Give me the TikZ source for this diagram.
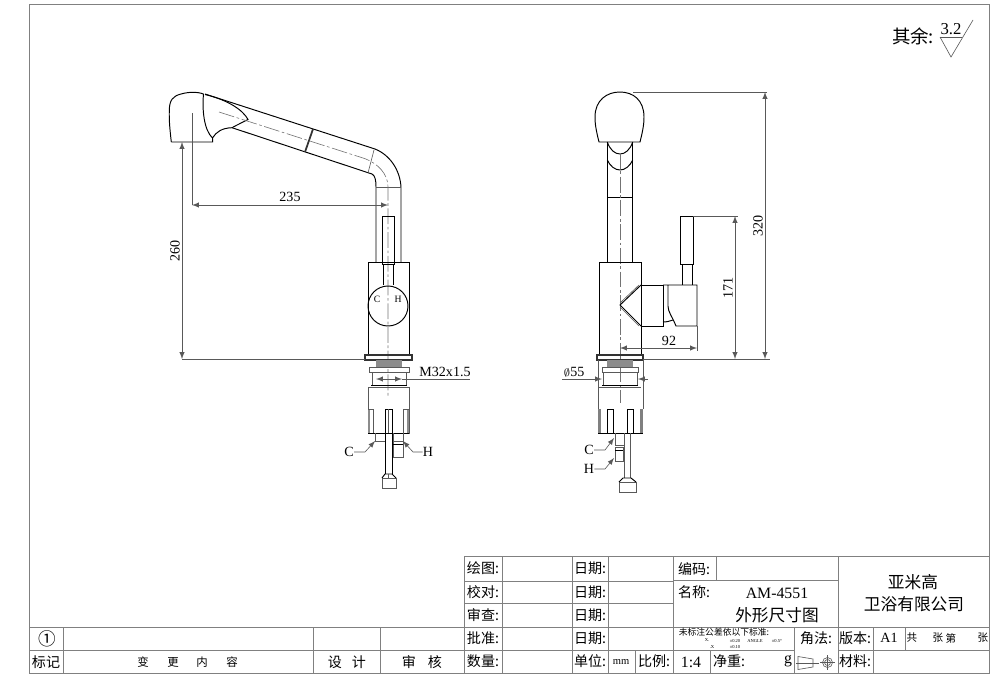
\documentclass[tikz,border=0pt]{standalone}
\usepackage{fontspec}
\setmainfont{Liberation Serif}
\newfontfamily\cjk{Noto Sans CJK SC}
\tikzset{
    part/.style={line width=0.55pt, black},
    thick part/.style={line width=1pt, black!80},
    dimline/.style={line width=0.35pt, black!65},
    axisline/.style={line width=0.35pt, black!55, dash pattern=on 9pt off 1.5pt on 1.5pt off 1.5pt},
    tabline/.style={line width=0.55pt, black!50},
    dimtext/.style={font=\fontsize{8}{8}\selectfont, inner sep=0pt},
    tabtext/.style={font=\cjk\fontsize{8}{8}\selectfont, inner sep=0pt},
    bigtext/.style={font=\cjk\fontsize{9.5}{9.5}\selectfont, inner sep=0pt},
    tinytext/.style={font=\fontsize{2.6}{2.6}\selectfont, inner sep=0pt},
}
\begin{document}
\begin{tikzpicture}[x=0.02cm, y=-0.02cm]
    \useasboundingbox (0,0) rectangle (1000,697);
    % frame and title block
    \draw[tabline] (29,4) rectangle (989,673);
    \draw[tabline] (29,627) -- (464,627);
    \draw[tabline] (29,650) -- (673,650);
    \draw[tabline] (464,556) -- (989,556);
    \draw[tabline] (464,581) -- (673,581);
    \draw[tabline] (464,603) -- (673,603);
    \draw[tabline] (464,627) -- (989,627);
    \draw[tabline] (673,650) -- (794,650);
    \draw[tabline] (838,650) -- (989,650);
    \draw[tabline] (673,580) -- (838,580);
    \draw[tabline] (63,627) -- (63,673);
    \draw[tabline] (313,627) -- (313,673);
    \draw[tabline] (380,627) -- (380,673);
    \draw[tabline] (464,556) -- (464,673);
    \draw[tabline] (502,556) -- (502,673);
    \draw[tabline] (572,556) -- (572,673);
    \draw[tabline] (608,556) -- (608,673);
    \draw[tabline] (635,650) -- (635,673);
    \draw[tabline] (673,556) -- (673,673);
    \draw[tabline] (710,650) -- (710,673);
    \draw[tabline] (716,556) -- (716,580);
    \draw[tabline] (794,627) -- (794,673);
    \draw[tabline] (838,556) -- (838,673);
    \draw[tabline] (873,627) -- (873,673);
    \draw[tabline] (905,627) -- (905,650);
    % left view, spout
    \draw[part] (171.3,142) .. controls (170,130) and (169,122) .. (169.3,110)
        .. controls (169.5,100) and (173,96) .. (181,94)
        .. controls (188,92) and (197,91.5) .. (203.5,94);
    \draw[part] (171.3,142) -- (212.7,142) -- (212.5,138);
    \draw[part] (203.5,94) .. controls (202,110) and (204,130) .. (212.5,138)
        .. controls (216,132) and (222,128) .. (232,127.7)
        .. controls (237,125) and (243,122) .. (248,119.5)
        .. controls (243,110) and (228,100) .. (205,94.5);
    \draw[part] (205,94) -- (375,149) .. controls (390,155) and (400,170) .. (401,187) -- (401,262);
    \draw[part] (232,127.7) -- (372,174) .. controls (375,175.5) and (376,180) .. (376,187) -- (376,262);
    \draw[thick part] (313,129) -- (305,152);
    \draw[dimline] (374,150) -- (368,173);
    \draw[dimline] (376,187) -- (401,187);
    \draw[axisline] (219,112) -- (363,158) .. controls (378,163) and (388,174) .. (388,187) -- (388,398);
    % left view, body
    \draw[part] (382.7,216) rectangle (394.3,264);
    \draw[part] (383.3,264) -- (383.3,285);
    \draw[part] (393.3,264) -- (393.3,285);
    \draw[part] (368,262) rectangle (409,355);
    \draw[part] (388,306) circle[radius=20];
    \draw[thick part] (365,355) rectangle (412,360);
    \node[tabtext, font=\fontsize{5.5}{5.5}\selectfont] (coldleft) at (377,299) {C};
    \node[tabtext, font=\fontsize{5.5}{5.5}\selectfont] (hotleft) at (398,299) {H};
    % left view, tail
    \fill[black!45] (376,360) rectangle (402,367);
    \draw[dimline] (369,367) rectangle (409,372);
    \draw[dimline] (372,372) -- (372,385);
    \draw[dimline] (406,372) -- (406,385);
    \draw[part] (371,385) -- (407,385);
    \draw[dimline] (368,387) rectangle (409,433);
    \draw[part] (368,433) -- (409,433);
    \fill[black!45] (368,409) rectangle (370,433);
    \fill[black!45] (407,409) rectangle (409,433);
    \draw[dimline] (373,409) -- (373,433);
    \draw[dimline] (368,409) -- (373,409);
    \draw[dimline] (403,409) -- (403,433);
    \draw[dimline] (403,409) -- (409,409);
    \draw[part] (385,409) rectangle (392,433);
    \draw[dimline] (388.5,409) -- (388.5,433);
    \draw[dimline] (375,433) -- (375,441) -- (385,441);
    \draw[dimline] (393,433) -- (393,457) -- (403,457) -- (403,433);
    \draw[dimline] (393,441) -- (403,441);
    \draw[part] (393,444) -- (403,444);
    \draw[part] (385,433) -- (385,474);
    \draw[part] (392,433) -- (392,474);
    \draw[dimline] (382,478) rectangle (396,488);
    \draw[part] (382,478) -- (385,474) -- (392,474) -- (396,478);
    \draw[dimline] (388.5,474) -- (388.5,478);
    % right view, spout
    \draw[part] (599,142) .. controls (596,130) and (595,124) .. (595,117)
        .. controls (595,100) and (607,92) .. (620,92)
        .. controls (633,92) and (644,100) .. (644,117)
        .. controls (644,124) and (643,130) .. (640,142) -- cycle;
    \draw[part] (607.3,142) .. controls (610,150) and (615,154) .. (620,154)
        .. controls (625,154) and (630,150) .. (632.7,142);
    \draw[part] (607.3,160) .. controls (610,166) and (615,170) .. (620,170)
        .. controls (625,170) and (630,166) .. (632.7,160);
    \draw[part] (607.3,142) -- (607.3,262);
    \draw[part] (632.7,142) -- (632.7,262);
    \draw[part] (607.3,197) -- (632.7,197);
    \draw[axisline] (620,153) -- (620,403);
    % right view, body and handle
    \draw[part] (599,262) rectangle (641,355);
    \draw[thick part] (597,355) rectangle (643,360);
    \draw[part] (641,285) -- (620,305) -- (641,326);
    \draw[dimline] (639,285) -- (620,303);
    \draw[dimline] (639,326) -- (620,307);
    \draw[part] (641,285) -- (663,285) -- (663,326) -- (641,326);
    \draw[part] (663,285) -- (697,285) -- (697,326) -- (676,326)
        .. controls (672,316) and (668,312) .. (668,306) -- (668,285);
    \draw[part] (663,322) .. controls (667,322) and (670,321) .. (673,320);
    \draw[part] (680.7,216) rectangle (693,264);
    \draw[part] (682,264) -- (682,285);
    \draw[part] (692,264) -- (692,285);
    % right view, tail
    \fill[black!45] (607,360) rectangle (633,367);
    \draw[dimline] (602,367) rectangle (638,372);
    \draw[dimline] (603,372) -- (603,385);
    \draw[dimline] (637,372) -- (637,385);
    \draw[part] (602,385) -- (638,385);
    \draw[dimline] (599,387) -- (641,387);
    \draw[dimline] (598,360) -- (598,409);
    \draw[dimline] (643,360) -- (643,409);
    \draw[part] (598,433) -- (643,433);
    \fill[black!50] (598,409) rectangle (601,433);
    \fill[black!50] (640,409) rectangle (643,433);
    \draw[part] (607,409) -- (607,433);
    \draw[part] (613,409) -- (613,433);
    \draw[part] (607,409) -- (613,409);
    \draw[part] (627,409) -- (627,433);
    \draw[part] (633,409) -- (633,433);
    \draw[part] (627,409) -- (633,409);
    \draw[dimline] (615,433) -- (615,445) -- (624,445);
    \draw[dimline] (615,447) rectangle (623,461);
    \draw[part] (615,450) -- (623,450);
    \draw[dimline] (624,433) -- (624,478);
    \draw[dimline] (630,433) -- (630,478);
    \draw[dimline] (619,482) rectangle (636,492);
    \draw[part] (619,482) -- (623,478) -- (631,478) -- (636,482);
    % dimensions
    \coordinate (headaxis) at (192,113);
    \coordinate (headdim) at (192,205);
    \coordinate (stemdim) at (388,205);
    \draw[dimline] (headaxis) -- (headdim);
    \draw[dimline, latex-latex] (headdim) -- (stemdim);
    \node[dimtext] (lenreach) at (290,197) {235};
    \coordinate (headtip) at (182,142);
    \coordinate (basetip) at (182,359);
    \coordinate (baseend) at (365,359);
    \draw[dimline, latex-latex] (headtip) -- (basetip);
    \draw[dimline] (basetip) -- (baseend);
    \node[dimtext, rotate=90] (lenheight) at (175,251) {260};
    \coordinate (threadleft) at (376,379);
    \coordinate (threadright) at (402,379);
    \coordinate (threadend) at (470,379);
    \draw[dimline, latex-latex] (threadleft) -- (threadright);
    \draw[dimline] (threadright) -- (threadend);
    \node[dimtext] (lenthread) at (445,372) {M32x1.5};
    \coordinate (toptip) at (765,92);
    \coordinate (topstart) at (633,92);
    \coordinate (floorend) at (770,359);
    \coordinate (floorstart) at (643,359);
    \coordinate (floortip) at (765,359);
    \coordinate (floormid) at (735,359);
    \draw[dimline] (topstart) -- (767,92);
    \draw[dimline] (floorstart) -- (floorend);
    \draw[dimline, latex-latex] (toptip) -- (floortip);
    \node[dimtext, rotate=90] (lentotal) at (758,226) {320};
    \coordinate (levertop) at (693,216);
    \coordinate (levertip) at (735,216);
    \draw[dimline] (levertop) -- (738,216);
    \draw[dimline, latex-latex] (levertip) -- (floormid);
    \node[dimtext, rotate=90] (lenlever) at (728,288) {171};
    \coordinate (axistip) at (620,348);
    \coordinate (handletip) at (697,348);
    \draw[dimline, latex-latex] (axistip) -- (handletip);
    \draw[dimline] (697,326) -- (697,351);
    \node[dimtext] (lenhandle) at (669,341) {92};
    \coordinate (flangeend) at (562,379);
    \coordinate (flangeleft) at (602,379);
    \coordinate (flangeright) at (638,379);
    \coordinate (flangeout) at (648,379);
    \draw[dimline, -latex] (flangeend) -- (flangeleft);
    \draw[dimline, -latex] (flangeout) -- (flangeright);
    \node[dimtext] (lendia) at (574,372) {$\scriptstyle\emptyset$55};
    % leaders
    \node[dimtext] (coldA) at (349,452) {C};
    \coordinate (coldAknee) at (365,452);
    \coordinate (coldAtip) at (375,441);
    \draw[dimline, -latex] (coldA.east) -- (coldAknee) -- (coldAtip);
    \node[dimtext] (hotA) at (428,452) {H};
    \coordinate (hotAknee) at (413,452);
    \coordinate (hotAtip) at (403,441);
    \draw[dimline, -latex] (hotA.west) -- (hotAknee) -- (hotAtip);
    \node[dimtext] (coldB) at (589,450) {C};
    \coordinate (coldBknee) at (605,450);
    \coordinate (coldBtip) at (614,438);
    \draw[dimline, -latex] (coldB.east) -- (coldBknee) -- (coldBtip);
    \node[dimtext] (hotB) at (589,469) {H};
    \coordinate (hotBknee) at (605,469);
    \coordinate (hotBtip) at (614,458);
    \draw[dimline, -latex] (hotB.east) -- (hotBknee) -- (hotBtip);
    % roughness mark
    \node[bigtext, font=\cjk\fontsize{10.5}{10.5}\selectfont] (restmark) at (913,36) {其余:};
    \node[dimtext, font=\fontsize{9.5}{9.5}\selectfont] (rough) at (951,29.5) {3.2};
    \draw[dimline] (940,37) -- (962,37);
    \draw[dimline] (940,37) -- (951,57) -- (973,20);
    % title block texts
    \node[tabtext] (drawn) at (483,568.5) {绘图:};
    \node[tabtext] (checked) at (483,592) {校对:};
    \node[tabtext] (reviewed) at (483,615) {审查:};
    \node[tabtext] (approved) at (483,638) {批准:};
    \node[tabtext] (quantity) at (483,661.5) {数量:};
    \node[tabtext] (dateA) at (590,568.5) {日期:};
    \node[tabtext] (dateB) at (590,592) {日期:};
    \node[tabtext] (dateC) at (590,615) {日期:};
    \node[tabtext] (dateD) at (590,638) {日期:};
    \node[tabtext] (unit) at (590,661.5) {单位:};
    \node[dimtext, font=\fontsize{6}{6}\selectfont] (unitval) at (621,662) {mm};
    \node[tabtext] (ratio) at (654,661.5) {比例:};
    \node[dimtext, font=\fontsize{9}{9}\selectfont] (ratioval) at (691,662) {1:4};
    \node[tabtext] (weight) at (729,661.5) {净重:};
    \node[dimtext, font=\fontsize{9}{9}\selectfont] (weightval) at (788,661) {g};
    \node[tabtext] (code) at (694,569) {编码:};
    \node[tabtext] (name) at (694,592) {名称:};
    \node[dimtext, font=\fontsize{9}{9}\selectfont] (model) at (777,593) {AM-4551};
    \node[bigtext] (title) at (777,615) {外形尺寸图};
    \node[bigtext] (companyA) at (913,582) {亚米高};
    \node[bigtext] (companyB) at (914,604) {卫浴有限公司};
    \node[tabtext, font=\cjk\fontsize{5}{5}\selectfont] (tolnote) at (724,632) {未标注公差依以下标准:};
    \node[tinytext] (tolx) at (707,640.5) {X.};
    \node[tinytext] (tolxval) at (735,640.5) {±0.20};
    \node[tinytext] (tolang) at (755,640.5) {ANGLE};
    \node[tinytext] (tolangval) at (777,640.5) {±0.5°};
    \node[tinytext] (tolxx) at (712,647) {.X};
    \node[tinytext] (tolxxval) at (735,647) {±0.10};
    \node[tabtext] (angle) at (816,638) {角法:};
    \node[tabtext] (version) at (855,638) {版本:};
    \node[dimtext] (versionval) at (889,638) {A1};
    \node[tabtext] (material) at (855,661.5) {材料:};
    \node[tabtext, font=\cjk\fontsize{6}{6}\selectfont] (sheetA) at (912,638) {共};
    \node[tabtext, font=\cjk\fontsize{6}{6}\selectfont] (sheetB) at (938,638) {张};
    \node[tabtext, font=\cjk\fontsize{6}{6}\selectfont] (sheetC) at (951,638) {第};
    \node[tabtext, font=\cjk\fontsize{6}{6}\selectfont] (sheetD) at (983,638) {张};
    \node[tabtext, font=\cjk\fontsize{10}{10}\selectfont] (markval) at (47,639) {①};
    \node[tabtext] (mark) at (46,662) {标记};
    \node[tabtext, font=\cjk\fontsize{6.5}{6.5}\selectfont] (changeA) at (143,662) {变};
    \node[tabtext, font=\cjk\fontsize{6.5}{6.5}\selectfont] (changeB) at (173,662) {更};
    \node[tabtext, font=\cjk\fontsize{6.5}{6.5}\selectfont] (changeC) at (202,662) {内};
    \node[tabtext, font=\cjk\fontsize{6.5}{6.5}\selectfont] (changeD) at (232,662) {容};
    \node[tabtext] (designA) at (335,662) {设};
    \node[tabtext] (designB) at (359,662) {计};
    \node[tabtext] (auditA) at (409,662) {审};
    \node[tabtext] (auditB) at (435,662) {核};
    % projection symbol
    \draw[dimline] (798,656.5) -- (813,659) -- (813,667) -- (798,669.5) -- cycle;
    \draw[dimline] (796,663) -- (819,663);
    \draw[dimline] (827.5,662.5) circle[radius=5];
    \draw[dimline] (827.5,662.5) circle[radius=3];
    \draw[dimline] (820,662.5) -- (835,662.5);
    \draw[dimline] (827.5,655) -- (827.5,670);
\end{tikzpicture}
\end{document}
